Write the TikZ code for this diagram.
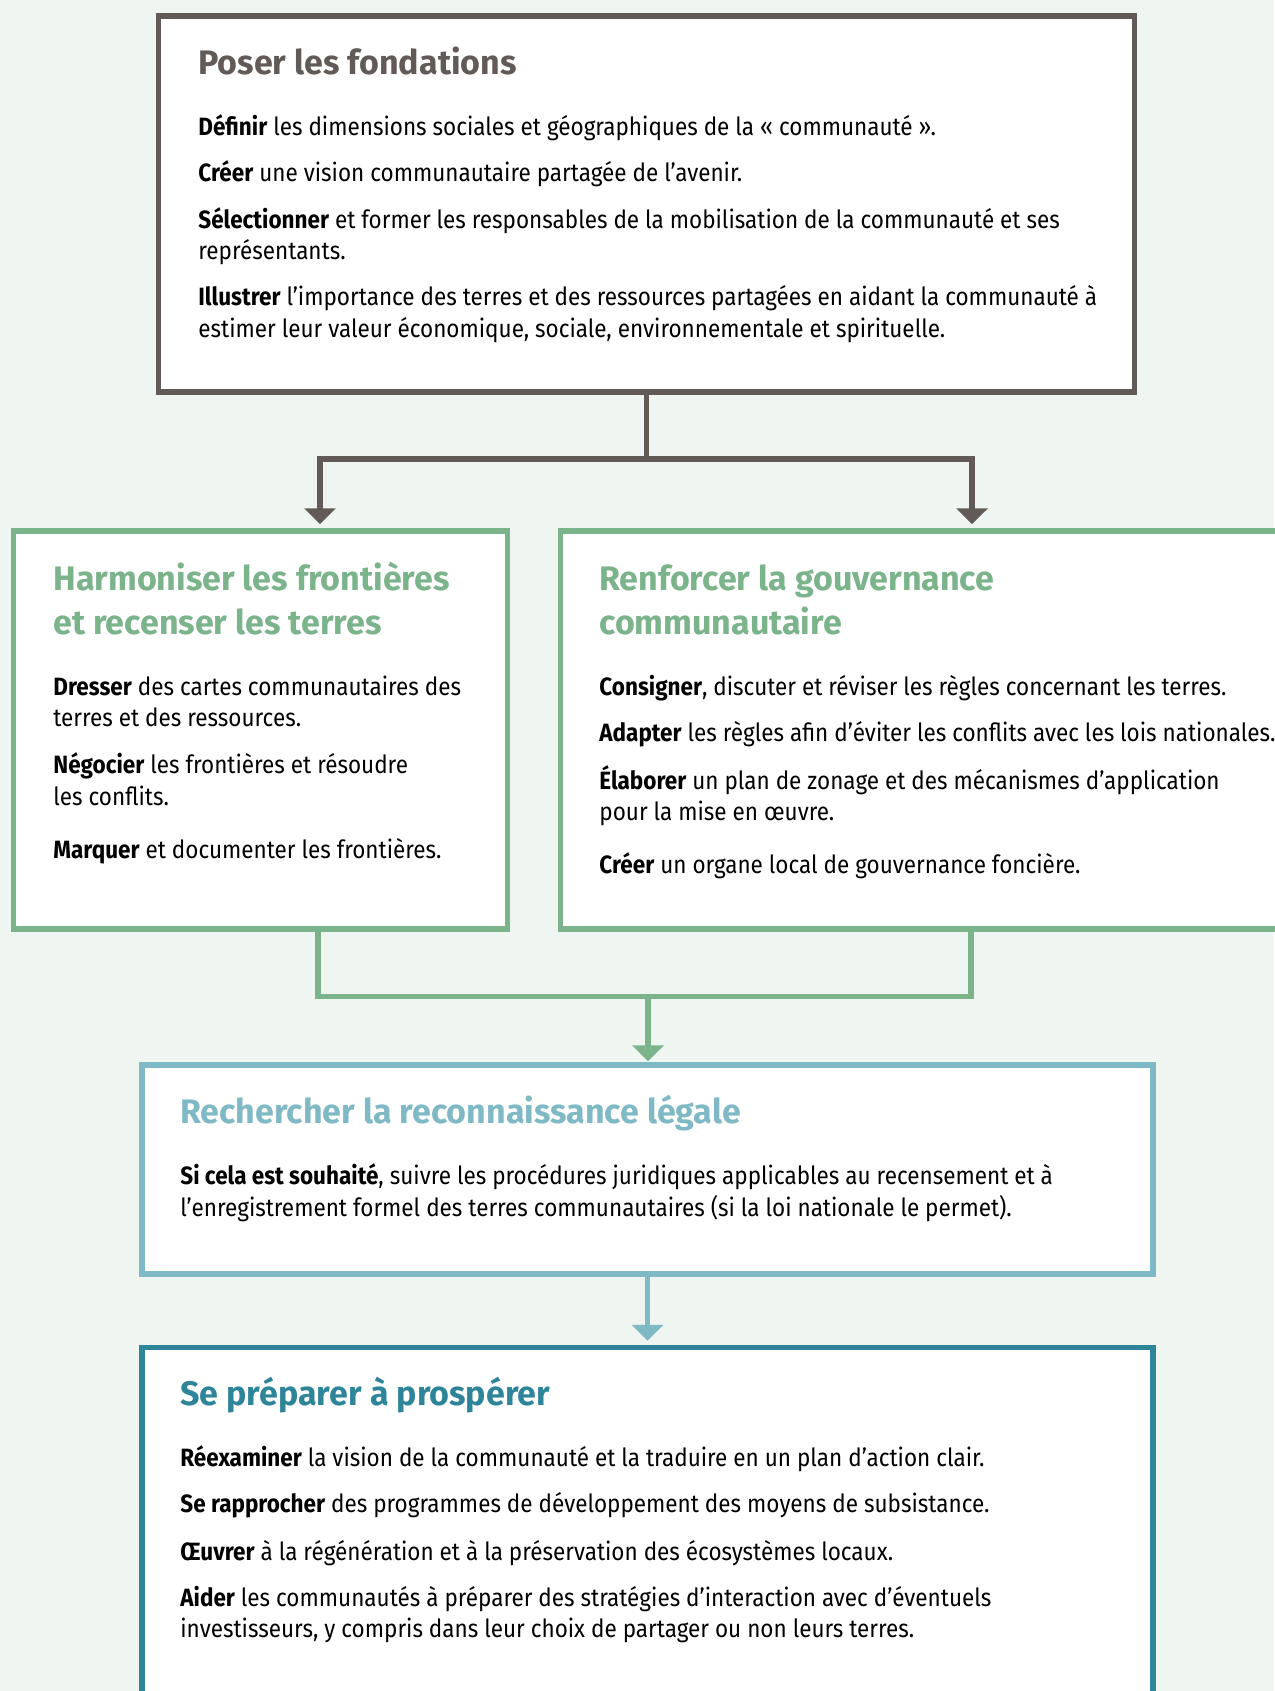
\documentclass[tikz,border=0pt]{standalone}
\usepackage{fontspec}
\setmainfont{Fira Sans}[FakeStretch=0.9]
\newfontfamily\headfont{Fira Sans}
\usepackage{xcolor}
\definecolor{colorBack}{HTML}{EFF5F1}
\definecolor{colorFoundation}{HTML}{625A56}
\definecolor{colorBorders}{HTML}{7BB38B}
\definecolor{colorLegal}{HTML}{7FB9C6}
\definecolor{colorThrive}{HTML}{2E8599}
\usepackage{tikz}
\usetikzlibrary{arrows.meta, fit, positioning}
\tikzset{
  framebox/.style={draw=#1, line width=2.75pt, fill=white, inner sep=0pt},
  link/.style={draw=#1, line width=2.75pt},
  headline/.style={anchor=base west, inner sep=0pt, text=#1, font=\headfont\bfseries\fontsize{17pt}{20pt}\selectfont},
  bodyline/.style={anchor=base west, inner sep=0pt, text=black, font=\fontsize{12.5pt}{15.5pt}\selectfont}
}

\begin{document}
\begin{tikzpicture}[x=0.5pt, y=-0.5pt, >={Triangle[width=15.5pt, length=8pt]}]
\fill[colorBack] (0,0) rectangle (1274,1691);
\useasboundingbox (0,0) rectangle (1274,1691);

% boxes
\node[framebox=colorFoundation, fit={(158.5,16) (1134.5,392)}] (found) {};
\node[framebox=colorBorders, fit={(13.5,531) (507.5,929)}] (harm) {};
\node[framebox=colorBorders, fit={(560.5,531) (1300,929)}] (gouv) {};
\node[framebox=colorLegal, fit={(142,1065) (1153,1274)}] (legal) {};
\node[framebox=colorThrive, fit={(142,1347.5) (1153,1720)}] (thrive) {};

% connectors
\coordinate (fork) at (646.5,459);
\coordinate (merge) at (648,996.7);
\draw[link=colorFoundation] (found.south) -- (fork);
\draw[link=colorFoundation, ->, shorten >=2pt] (fork) -| (harm.north -| 320,0);
\draw[link=colorFoundation, ->, shorten >=2pt] (fork) -| (gouv.north -| 972,0);
\draw[link=colorBorders] (harm.south -| 318,0) |- (merge);
\draw[link=colorBorders] (gouv.south -| 971,0) |- (merge);
\draw[link=colorBorders, ->, shorten >=0.5pt] (merge) -- (legal.north -| merge);
\draw[link=colorLegal, ->, shorten >=2pt] (legal.south) -- (thrive.north);

% Poser les fondations
\node[headline=colorFoundation] (found0) at (198,75) {Poser les fondations};
\node[bodyline] (found1) at (198,135) {\textbf{Définir} les dimensions sociales et géographiques de la «~communauté~».};
\node[bodyline] (found2) at (198,181) {\textbf{Créer} une vision communautaire partagée de l’avenir.};
\node[bodyline] (found3) at (198,228) {\textbf{Sélectionner} et former les responsables de la mobilisation de la communauté et ses};
\node[bodyline] (found4) at (198,259) {représentants.};
\node[bodyline] (found5) at (198,305) {\textbf{Illustrer} l’importance des terres et des ressources partagées en aidant la communauté à};
\node[bodyline] (found6) at (198,337) {estimer leur valeur économique, sociale, environnementale et spirituelle.};

% Harmoniser les frontieres
\node[headline=colorBorders] (harm0) at (53,590) {Harmoniser les frontières};
\node[headline=colorBorders] (harm1) at (53,634) {et recenser les terres};
\node[bodyline] (harm2) at (53,695) {\textbf{Dresser} des cartes communautaires des};
\node[bodyline] (harm3) at (53,726) {terres et des ressources.};
\node[bodyline] (harm4) at (53,773) {\textbf{Négocier} les frontières et résoudre};
\node[bodyline] (harm5) at (53,805) {les conflits.};
\node[bodyline] (harm6) at (53,858) {\textbf{Marquer} et documenter les frontières.};

% Renforcer la gouvernance
\node[headline=colorBorders] (gouv0) at (599,590) {Renforcer la gouvernance};
\node[headline=colorBorders] (gouv1) at (599,634) {communautaire};
\node[bodyline] (gouv2) at (599,695) {\textbf{Consigner}, discuter et réviser les règles concernant les terres.};
\node[bodyline] (gouv3) at (599,741) {\textbf{Adapter} les règles afin d’éviter les conflits avec les lois nationales.};
\node[bodyline] (gouv4) at (599,789) {\textbf{Élaborer} un plan de zonage et des mécanismes d’application};
\node[bodyline] (gouv5) at (599,820) {pour la mise en œuvre.};
\node[bodyline] (gouv6) at (599,873) {\textbf{Créer} un organe local de gouvernance foncière.};

% Rechercher la reconnaissance
\node[headline=colorLegal] (legal0) at (180,1123) {Rechercher la reconnaissance légale};
\node[bodyline] (legal1) at (180,1184) {\textbf{Si cela est souhaité}, suivre les procédures juridiques applicables au recensement et à};
\node[bodyline] (legal2) at (180,1216) {l’enregistrement formel des terres communautaires (si la loi nationale le permet).};

% Se preparer a prosperer
\node[headline=colorThrive] (thrive0) at (180,1405.5) {Se préparer à prospérer};
\node[bodyline] (thrive1) at (180,1466) {\textbf{Réexaminer} la vision de la communauté et la traduire en un plan d’action clair.};
\node[bodyline] (thrive2) at (180,1512) {\textbf{Se rapprocher} des programmes de développement des moyens de subsistance.};
\node[bodyline] (thrive3) at (180,1560) {\textbf{Œuvrer} à la régénération et à la préservation des écosystèmes locaux.};
\node[bodyline] (thrive4) at (180,1606) {\textbf{Aider} les communautés à préparer des stratégies d’interaction avec d’éventuels};
\node[bodyline] (thrive5) at (180,1637) {investisseurs, y compris dans leur choix de partager ou non leurs terres.};
\end{tikzpicture}
\end{document}
